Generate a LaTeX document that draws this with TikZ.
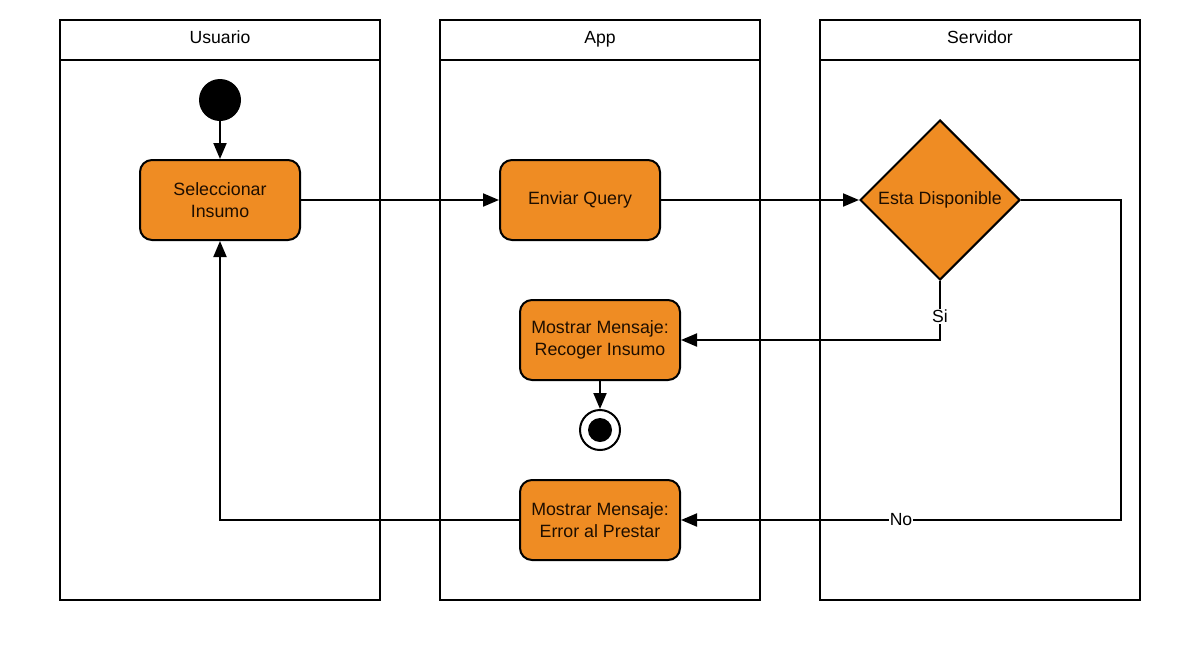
\documentclass[tikz,border=0pt]{standalone}
\usepackage{fontspec}
\setmainfont{Liberation Sans}
\usetikzlibrary{shapes.geometric,arrows.meta}
\definecolor{orangefill}{HTML}{EF8C23}
\definecolor{txt}{HTML}{1E0E00}
\tikzset{
  lane/.style={draw=black,line width=2},
  lanetitle/.style={font=\fontsize{17.6}{21}\selectfont,text=black,text height=13,text depth=4},
  act/.style={draw=black,fill=orangefill,line width=2,rounded corners=12,
    minimum width=160,minimum height=80,inner sep=0,align=center,text=txt,
    font=\fontsize{17.8}{22}\selectfont},
  dec/.style={diamond,draw=black,fill=orangefill,line width=2,minimum width=160,
    minimum height=160,inner sep=0,text=txt,font=\fontsize{17.8}{22}\selectfont},
  startnode/.style={circle,fill=black,minimum size=42,inner sep=0},
  endnode/.style={circle,draw=black,fill=white,line width=2,minimum size=40,inner sep=0},
  endin/.style={circle,fill=black,minimum size=24,inner sep=0},
  arr/.style={line width=2,-{Triangle[length=16,width=13]}},
  lbl/.style={fill=white,inner sep=1,font=\fontsize{17.6}{21}\selectfont,text=black},
}
\begin{document}
\begin{tikzpicture}[x=1pt,y=-1pt]
\useasboundingbox (0,0) rectangle (1201,667);
% lanes
\draw[lane] (60,20) rectangle (380,600);
\draw[lane] (60,60) -- (380,60);
\node[lanetitle] (t1) at (220,39) {Usuario};
\draw[lane] (440,20) rectangle (760,600);
\draw[lane] (440,60) -- (760,60);
\node[lanetitle] (t2) at (600,39) {App};
\draw[lane] (820,20) rectangle (1140,600);
\draw[lane] (820,60) -- (1140,60);
\node[lanetitle] (t3) at (980,39) {Servidor};
% nodes
\node[startnode] (start) at (220,100) {};
\node[act] (sel) at (220,200) {Seleccionar\\Insumo};
\node[act] (env) at (580,200) {Enviar Query};
\node[dec] (dis) at (940,200) {Esta Disponible};
\node[act] (rec) at (600,340) {Mostrar Mensaje:\\Recoger Insumo};
\node[endnode] (end) at (600,430) {};
\node[endin] (endc) at (600,430) {};
\node[act] (err) at (600,520) {Mostrar Mensaje:\\Error al Prestar};
% edges
\draw[arr] (start) -- (sel);
\draw[arr] (sel) -- (env);
\draw[arr] (env) -- (dis);
\draw[arr] (dis.east) -- ++(100,0) |- (err.east) node[lbl,pos=0.75] {No};
\draw[arr] (dis.south) |- (rec.east) node[lbl,pos=0.3] {Si};
\draw[arr] (rec) -- (end);
\draw[arr] (err.west) -| (sel.south);
\end{tikzpicture}
\end{document}
